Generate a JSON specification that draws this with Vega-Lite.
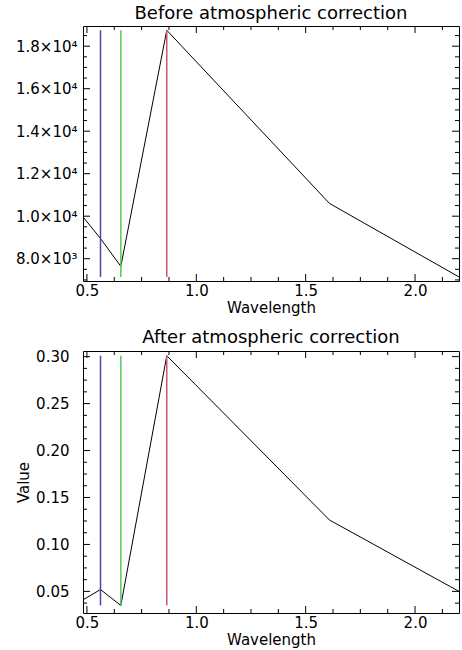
{
  "$schema": "https://vega.github.io/schema/vega-lite/v6.json",
  "padding": {"left": 14, "top": 4, "right": 1, "bottom": 0},
  "background": "white",
  "spacing": 12,
  "config": {
    "font": "DejaVu Sans",
    "view": {"stroke": "black", "strokeWidth": 1},
    "axis": {
      "domain": false,
      "ticks": false,
      "grid": false,
      "labelColor": "black",
      "titleColor": "black",
      "labelFontSize": 15,
      "titleFontSize": 15,
      "titleFontWeight": "normal",
      "labelFlush": false,
      "labelOverlap": false
    },
    "title": {"fontSize": 18, "fontWeight": "normal", "color": "black", "offset": 3, "anchor": "middle"}
  },
  "datasets": {
    "before": [
      {"wavelength": 0.482, "value": 9970},
      {"wavelength": 0.562, "value": 8950},
      {"wavelength": 0.655, "value": 7640},
      {"wavelength": 0.865, "value": 18750},
      {"wavelength": 1.609, "value": 10600},
      {"wavelength": 2.201, "value": 7140}
    ],
    "after": [
      {"wavelength": 0.482, "value": 0.041},
      {"wavelength": 0.562, "value": 0.052},
      {"wavelength": 0.655, "value": 0.035},
      {"wavelength": 0.865, "value": 0.301},
      {"wavelength": 1.609, "value": 0.126},
      {"wavelength": 2.201, "value": 0.05}
    ],
    "bandsBefore": [
      {"wavelength": 0.562, "band": "green", "lo": 7140, "hi": 18750},
      {"wavelength": 0.655, "band": "red", "lo": 7140, "hi": 18750},
      {"wavelength": 0.865, "band": "nir", "lo": 7140, "hi": 18750}
    ],
    "bandsAfter": [
      {"wavelength": 0.562, "band": "green", "lo": 0.035, "hi": 0.301},
      {"wavelength": 0.655, "band": "red", "lo": 0.035, "hi": 0.301},
      {"wavelength": 0.865, "band": "nir", "lo": 0.035, "hi": 0.301}
    ],
    "ticksX": [
      {"tick": 0.5, "kind": "major"}, {"tick": 0.625, "kind": "minor"}, {"tick": 0.75, "kind": "minor"}, {"tick": 0.875, "kind": "minor"},
      {"tick": 1.0, "kind": "major"}, {"tick": 1.125, "kind": "minor"}, {"tick": 1.25, "kind": "minor"}, {"tick": 1.375, "kind": "minor"},
      {"tick": 1.5, "kind": "major"}, {"tick": 1.625, "kind": "minor"}, {"tick": 1.75, "kind": "minor"}, {"tick": 1.875, "kind": "minor"},
      {"tick": 2.0, "kind": "major"}, {"tick": 2.125, "kind": "minor"}
    ],
    "ticksYBefore": [
      {"tick": 7000, "kind": "minor"}, {"tick": 7500, "kind": "minor"}, {"tick": 8000, "kind": "major"}, {"tick": 8500, "kind": "minor"},
      {"tick": 9000, "kind": "minor"}, {"tick": 9500, "kind": "minor"}, {"tick": 10000, "kind": "major"}, {"tick": 10500, "kind": "minor"},
      {"tick": 11000, "kind": "minor"}, {"tick": 11500, "kind": "minor"}, {"tick": 12000, "kind": "major"}, {"tick": 12500, "kind": "minor"},
      {"tick": 13000, "kind": "minor"}, {"tick": 13500, "kind": "minor"}, {"tick": 14000, "kind": "major"}, {"tick": 14500, "kind": "minor"},
      {"tick": 15000, "kind": "minor"}, {"tick": 15500, "kind": "minor"}, {"tick": 16000, "kind": "major"}, {"tick": 16500, "kind": "minor"},
      {"tick": 17000, "kind": "minor"}, {"tick": 17500, "kind": "minor"}, {"tick": 18000, "kind": "major"}, {"tick": 18500, "kind": "minor"}
    ],
    "ticksYAfter": [
      {"tick": 0.0375, "kind": "minor"}, {"tick": 0.05, "kind": "major"}, {"tick": 0.0625, "kind": "minor"}, {"tick": 0.075, "kind": "minor"},
      {"tick": 0.0875, "kind": "minor"}, {"tick": 0.1, "kind": "major"}, {"tick": 0.1125, "kind": "minor"}, {"tick": 0.125, "kind": "minor"},
      {"tick": 0.1375, "kind": "minor"}, {"tick": 0.15, "kind": "major"}, {"tick": 0.1625, "kind": "minor"}, {"tick": 0.175, "kind": "minor"},
      {"tick": 0.1875, "kind": "minor"}, {"tick": 0.2, "kind": "major"}, {"tick": 0.2125, "kind": "minor"}, {"tick": 0.225, "kind": "minor"},
      {"tick": 0.2375, "kind": "minor"}, {"tick": 0.25, "kind": "major"}, {"tick": 0.2625, "kind": "minor"}, {"tick": 0.275, "kind": "minor"},
      {"tick": 0.2875, "kind": "minor"}, {"tick": 0.3, "kind": "major"}
    ]
  },
  "vconcat": [
    {
      "width": 376,
      "height": 255,
      "title": {"text": "Before atmospheric correction"},
      "resolve": {"scale": {"strokeDash": "independent"}},
      "layer": [
        {
          "data": {"name": "before"},
          "mark": {"type": "line", "color": "black", "strokeWidth": 1, "clip": true},
          "encoding": {
            "x": {"field": "wavelength", "type": "quantitative",
              "scale": {"domain": [0.482, 2.201], "nice": false, "zero": false},
              "axis": {"orient": "bottom", "title": "Wavelength", "titlePadding": 2, "labelPadding": 2,
                "values": [0.5, 1.0, 1.5, 2.0], "format": ".1f"}},
            "y": {"field": "value", "type": "quantitative",
              "scale": {"domain": [6950, 18950], "nice": false, "zero": false},
              "axis": {"orient": "left", "title": null, "labelPadding": 6,
                "values": [8000, 10000, 12000, 14000, 16000, 18000],
                "labelExpr": "datum.value >= 10000 ? format(datum.value/10000, '.1f') + '×10⁴' : format(datum.value/1000, '.1f') + '×10³'"}}
          }
        },
        {
          "data": {"name": "bandsBefore"},
          "mark": {"type": "rule", "strokeWidth": 1.5},
          "encoding": {
            "x": {"field": "wavelength", "type": "quantitative",
              "scale": {"domain": [0.482, 2.201], "nice": false, "zero": false},
              "axis": {"orient": "bottom", "title": "Wavelength", "titlePadding": 2, "labelPadding": 2,
                "values": [0.5, 1.0, 1.5, 2.0], "format": ".1f"}},
            "y": {"field": "lo", "type": "quantitative",
              "scale": {"domain": [6950, 18950], "nice": false, "zero": false},
              "axis": {"orient": "left", "title": null, "labelPadding": 6,
                "values": [8000, 10000, 12000, 14000, 16000, 18000],
                "labelExpr": "datum.value >= 10000 ? format(datum.value/10000, '.1f') + '×10⁴' : format(datum.value/1000, '.1f') + '×10³'"}},
            "y2": {"field": "hi"},
            "color": {"field": "band", "type": "nominal", "legend": null,
              "scale": {"domain": ["green", "red", "nir"], "range": ["#4848a8", "#58c858", "#c85868"]}}
          }
        },
        {
          "data": {"name": "ticksX"},
          "mark": {"type": "rule", "color": "black", "strokeWidth": 1},
          "encoding": {
            "x": {"field": "tick", "type": "quantitative",
              "scale": {"domain": [0.482, 2.201], "nice": false, "zero": false},
              "axis": {"orient": "bottom", "title": "Wavelength", "titlePadding": 2, "labelPadding": 2,
                "values": [0.5, 1.0, 1.5, 2.0], "format": ".1f"}},
            "strokeDash": {"field": "kind", "type": "nominal", "legend": null,
              "scale": {"domain": ["major", "minor"], "range": [[7, 241], [4, 247]]}}
          }
        },
        {
          "data": {"name": "ticksYBefore"},
          "mark": {"type": "rule", "color": "black", "strokeWidth": 1},
          "encoding": {
            "y": {"field": "tick", "type": "quantitative",
              "scale": {"domain": [6950, 18950], "nice": false, "zero": false},
              "axis": {"orient": "left", "title": null, "labelPadding": 6,
                "values": [8000, 10000, 12000, 14000, 16000, 18000],
                "labelExpr": "datum.value >= 10000 ? format(datum.value/10000, '.1f') + '×10⁴' : format(datum.value/1000, '.1f') + '×10³'"}},
            "strokeDash": {"field": "kind", "type": "nominal", "legend": null,
              "scale": {"domain": ["major", "minor"], "range": [[7, 362], [4, 368]]}}
          }
        }
      ]
    },
    {
      "width": 376,
      "height": 262,
      "title": {"text": "After atmospheric correction"},
      "resolve": {"scale": {"strokeDash": "independent"}},
      "layer": [
        {
          "data": {"name": "after"},
          "mark": {"type": "line", "color": "black", "strokeWidth": 1, "clip": true},
          "encoding": {
            "x": {"field": "wavelength", "type": "quantitative",
              "scale": {"domain": [0.482, 2.201], "nice": false, "zero": false},
              "axis": {"orient": "bottom", "title": "Wavelength", "titlePadding": 2, "labelPadding": 2,
                "values": [0.5, 1.0, 1.5, 2.0], "format": ".1f"}},
            "y": {"field": "value", "type": "quantitative",
              "scale": {"domain": [0.027, 0.306], "nice": false, "zero": false},
              "axis": {"orient": "left", "title": "Value", "titlePadding": 4, "labelPadding": 14,
                "values": [0.05, 0.1, 0.15, 0.2, 0.25, 0.3], "format": ".2f"}}
          }
        },
        {
          "data": {"name": "bandsAfter"},
          "mark": {"type": "rule", "strokeWidth": 1.5},
          "encoding": {
            "x": {"field": "wavelength", "type": "quantitative",
              "scale": {"domain": [0.482, 2.201], "nice": false, "zero": false},
              "axis": {"orient": "bottom", "title": "Wavelength", "titlePadding": 2, "labelPadding": 2,
                "values": [0.5, 1.0, 1.5, 2.0], "format": ".1f"}},
            "y": {"field": "lo", "type": "quantitative",
              "scale": {"domain": [0.027, 0.306], "nice": false, "zero": false},
              "axis": {"orient": "left", "title": "Value", "titlePadding": 4, "labelPadding": 14,
                "values": [0.05, 0.1, 0.15, 0.2, 0.25, 0.3], "format": ".2f"}},
            "y2": {"field": "hi"},
            "color": {"field": "band", "type": "nominal", "legend": null,
              "scale": {"domain": ["green", "red", "nir"], "range": ["#4848a8", "#58c858", "#c85868"]}}
          }
        },
        {
          "data": {"name": "ticksX"},
          "mark": {"type": "rule", "color": "black", "strokeWidth": 1},
          "encoding": {
            "x": {"field": "tick", "type": "quantitative",
              "scale": {"domain": [0.482, 2.201], "nice": false, "zero": false},
              "axis": {"orient": "bottom", "title": "Wavelength", "titlePadding": 2, "labelPadding": 2,
                "values": [0.5, 1.0, 1.5, 2.0], "format": ".1f"}},
            "strokeDash": {"field": "kind", "type": "nominal", "legend": null,
              "scale": {"domain": ["major", "minor"], "range": [[7, 248], [4, 254]]}}
          }
        },
        {
          "data": {"name": "ticksYAfter"},
          "mark": {"type": "rule", "color": "black", "strokeWidth": 1},
          "encoding": {
            "y": {"field": "tick", "type": "quantitative",
              "scale": {"domain": [0.027, 0.306], "nice": false, "zero": false},
              "axis": {"orient": "left", "title": "Value", "titlePadding": 4, "labelPadding": 14,
                "values": [0.05, 0.1, 0.15, 0.2, 0.25, 0.3], "format": ".2f"}},
            "strokeDash": {"field": "kind", "type": "nominal", "legend": null,
              "scale": {"domain": ["major", "minor"], "range": [[7, 362], [4, 368]]}}
          }
        }
      ]
    }
  ]
}
